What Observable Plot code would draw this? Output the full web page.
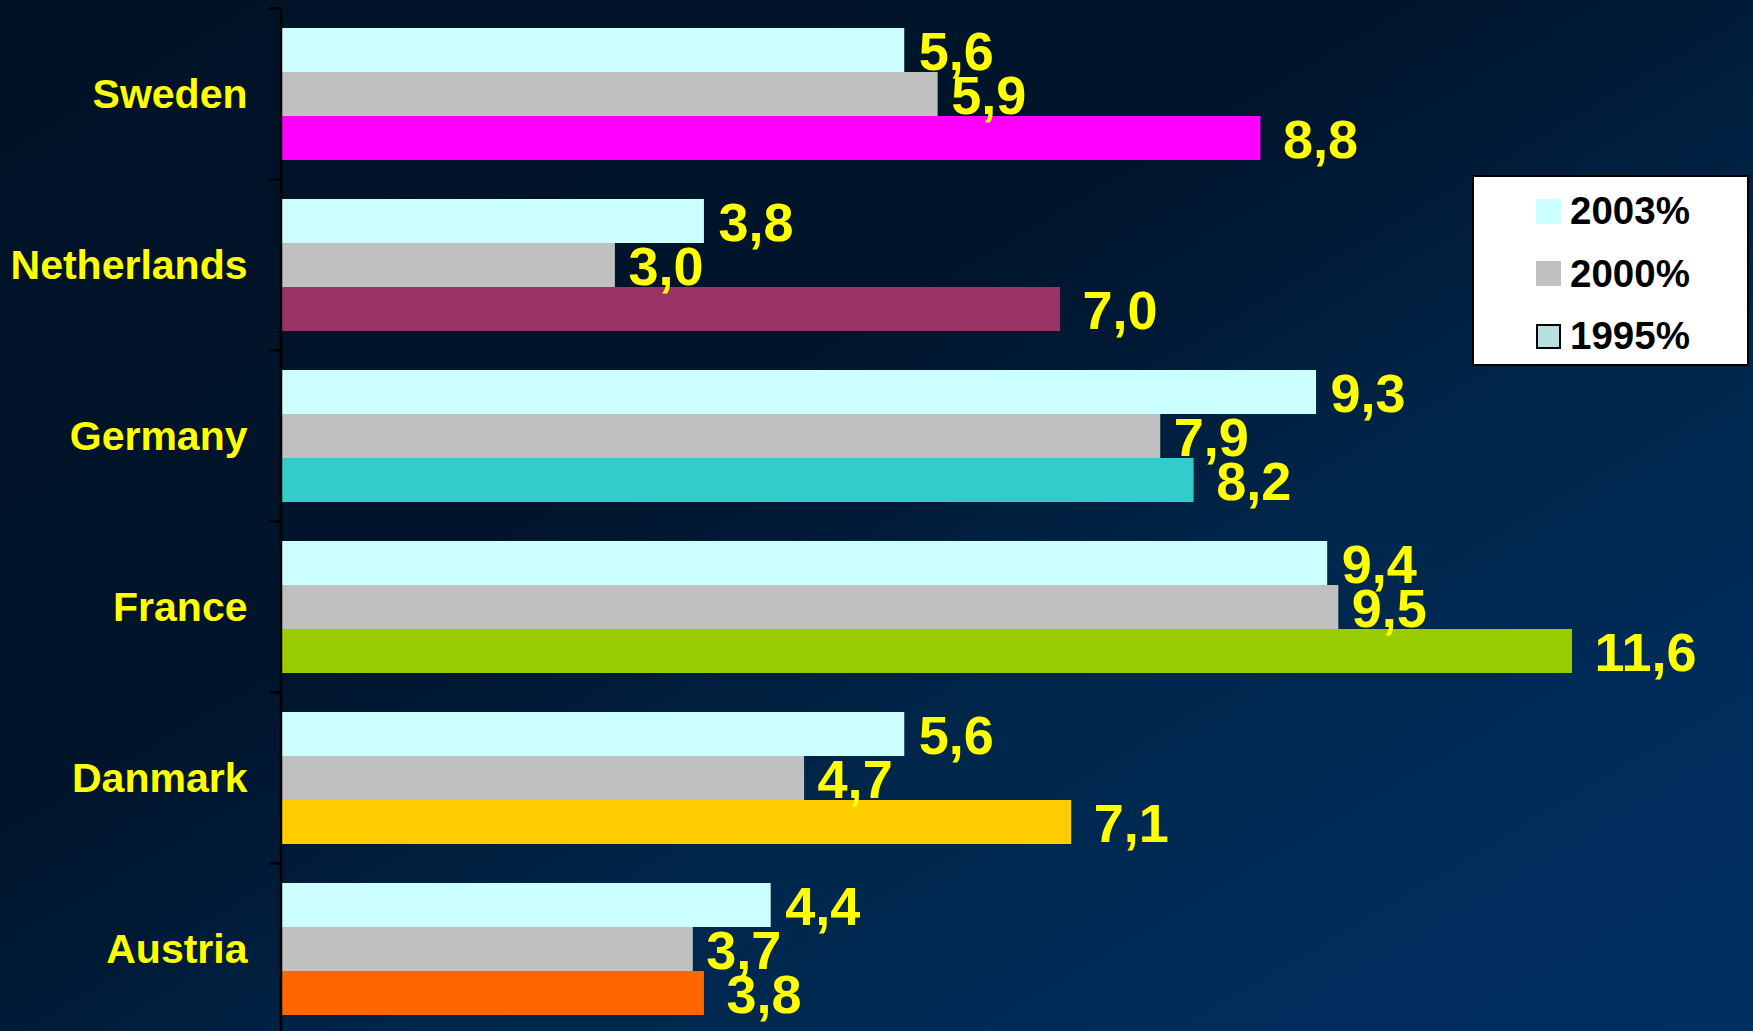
<!DOCTYPE html>
<html><head><meta charset="utf-8">
<script src="https://cdn.jsdelivr.net/npm/d3@7"></script>
<script src="https://cdn.jsdelivr.net/npm/@observablehq/plot@0.6"></script>
<style>
html,body{margin:0;padding:0;}
body{width:1753px;height:1031px;overflow:hidden;position:relative;font-family:"Liberation Sans",Arial,sans-serif;
background:linear-gradient(to bottom right,#001226 0%,#00152c 40%,#001b38 50%,#00264a 62%,#002d5c 85%,#002f60 100%);}
#chart{position:absolute;left:0;top:0;}
#legend{position:absolute;left:1472px;top:175px;width:273px;height:187px;background:#fff;border:2px solid #000;}
.item{position:absolute;left:62px;height:40px;display:flex;align-items:center;}
.sw{width:25px;height:25px;margin-right:9px;box-sizing:border-box;}
.lt{font-weight:bold;font-size:38.5px;color:#000;line-height:40px;}
</style></head>
<body>
<div id="chart"></div>
<div id="legend"></div>
<script>
const countries = ["Sweden", "Netherlands", "Germany", "France", "Danmark", "Austria"];
const series = ["2003%", "2000%", "1995%"];
const v2003 = [5.6, 3.8, 9.3, 9.4, 5.6, 4.4];
const v2000 = [5.9, 3.0, 7.9, 9.5, 4.7, 3.7];
const v1995 = [8.8, 7.0, 8.2, 11.6, 7.1, 3.8];

// styles
const color2003 = "#ccffff";
const color2000 = "#c0c0c0";
const colors1995 = ["#ff00ff", "#993366", "#33cccc", "#99cc00", "#ffcc00", "#ff6600"];
const legendColors = ["#ccffff", "#c0c0c0", "#b8e0e0"];
const labelGap = {"2003%": 14, "2000%": 13, "1995%": 22};

const rows = [];
countries.forEach((c, i) => {
  rows.push({country: c, series: series[0], value: v2003[i], color: color2003});
  rows.push({country: c, series: series[1], value: v2000[i], color: color2000});
  rows.push({country: c, series: series[2], value: v1995[i], color: colors1995[i]});
});
const fmt = v => v.toFixed(1).replace(".", ",");

const chart = Plot.plot({
  width: 1753,
  height: 1035,
  marginLeft: 281,
  marginRight: 0,
  marginTop: 8,
  marginBottom: 0,
  style: {background: "transparent", color: "#ffff00", fontFamily: "'Liberation Sans', Arial, sans-serif", fontWeight: "bold", fontSize: "41px"},
  x: {domain: [0, 13.226], axis: null},
  y: {domain: series, padding: 0, axis: null},
  fy: {domain: countries, paddingInner: 0.229, paddingOuter: 0.1145, label: null, tickSize: 0, tickPadding: 34},
  color: {type: "identity"},
  marks: [
    Plot.barX(rows, {x: "value", y: "series", fy: "country", fill: "color"}),
    ...series.map(s => Plot.text(rows.filter(d => d.series === s), {x: "value", y: "series", fy: "country", text: d => fmt(d.value),
      textAnchor: "start", dx: labelGap[s], dy: 2, fill: "#ffff00", fontSize: 54, fontWeight: "bold"}))
  ]
});
document.getElementById("chart").appendChild(chart);

// vertical axis line and category separator ticks
const fy = chart.scale("fy");
const xs = chart.scale("x");
const svg = d3.select(chart);
const x0 = xs.apply(0);
const step = fy.step ?? (fy.bandwidth / (1 - 0.229));
const half = step * 0.229 / 2;
const g = svg.append("g");
g.append("line").attr("x1", x0).attr("x2", x0).attr("y1", fy.apply(countries[0]) - half).attr("y2", 1035)
  .attr("stroke", "#000").attr("stroke-width", 2.5);
countries.forEach(c => {
  const yy = fy.apply(c) - half;
  g.append("line").attr("x1", x0 - 12).attr("x2", x0).attr("y1", yy).attr("y2", yy)
    .attr("stroke", "#000").attr("stroke-width", 2.5);
});

// legend
const legend = document.getElementById("legend");
series.forEach((s, i) => {
  const it = document.createElement("div");
  it.className = "item";
  it.style.top = (14 + i * 62.5) + "px";
  const sw = document.createElement("div");
  sw.className = "sw";
  sw.style.background = legendColors[i];
  if (i === 2) sw.style.border = "2px solid #000";
  const t = document.createElement("span");
  t.className = "lt";
  t.textContent = s;
  it.appendChild(sw); it.appendChild(t);
  legend.appendChild(it);
});
</script>
</body></html>
